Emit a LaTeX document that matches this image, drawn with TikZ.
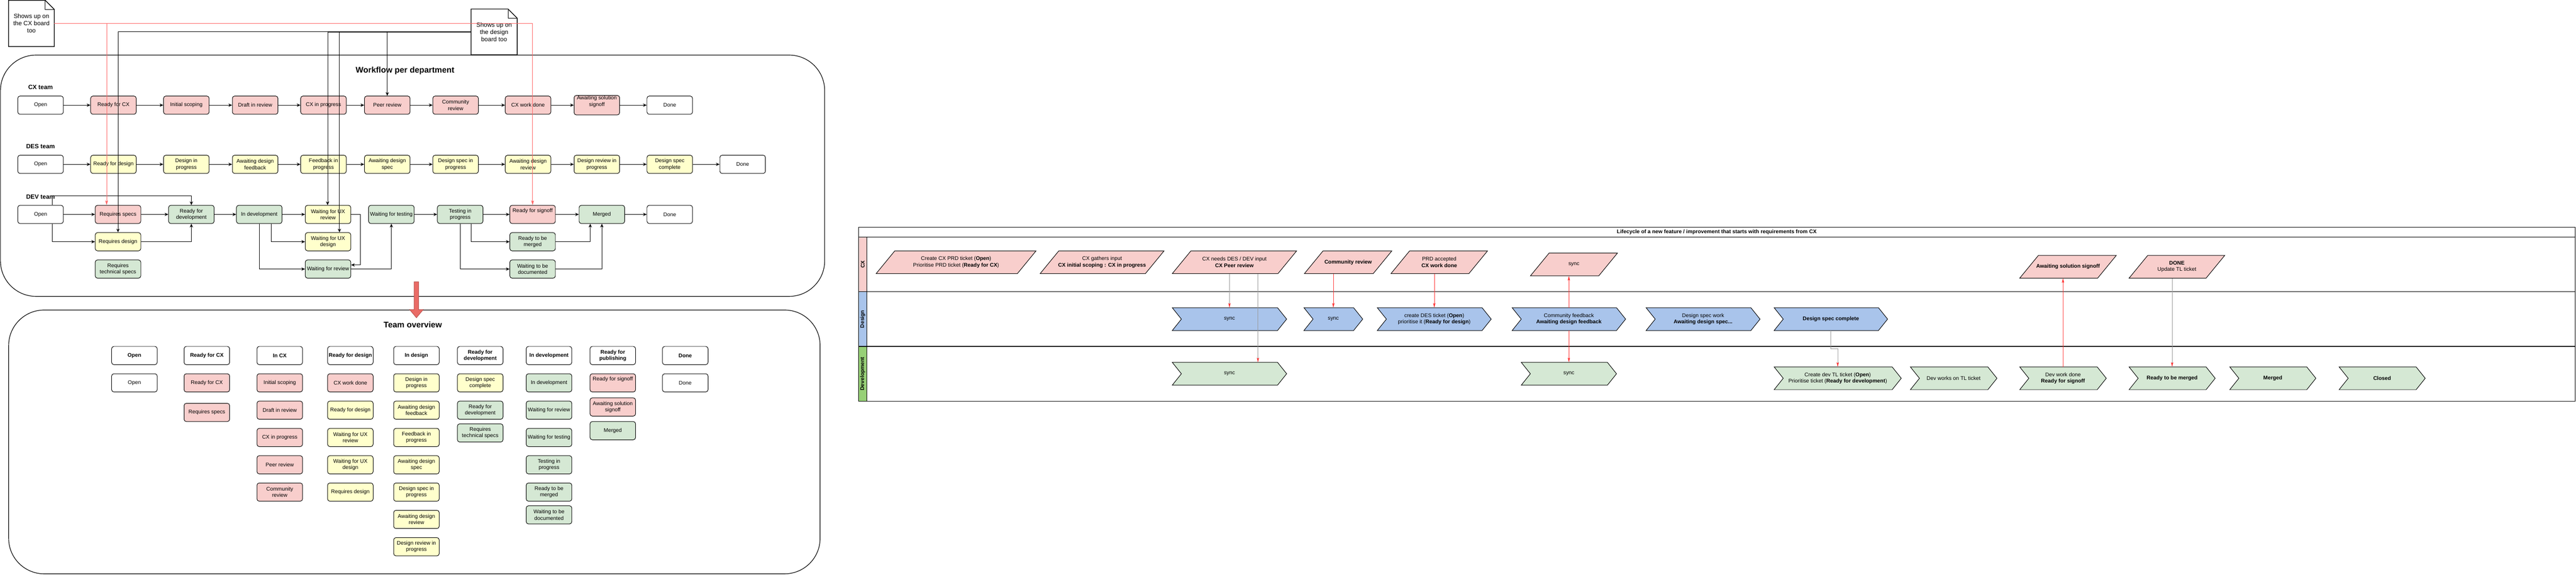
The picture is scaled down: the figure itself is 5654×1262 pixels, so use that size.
\documentclass[tikz,border=0pt]{standalone}
\usepackage{fontspec}
\setmainfont{Liberation Sans}
\usetikzlibrary{arrows.meta,calc}
\definecolor{cxred}{HTML}{F8CECC}
\definecolor{desyel}{HTML}{FFFFCC}
\definecolor{devgrn}{HTML}{D5E8D4}
\definecolor{laneblue}{HTML}{A9C4EB}
\definecolor{lanegreen}{HTML}{97D077}
\definecolor{linered}{HTML}{FF3333}
\definecolor{notered}{HTML}{FF6666}
\definecolor{blockred}{HTML}{EA6B66}
\definecolor{blockedge}{HTML}{B85450}
\newcommand\bxfont{\fontsize{11.7}{14}\selectfont}
\newcommand\bxbold{\fontsize{11.7}{14}\selectfont\bfseries}
\newcommand\notefont{\fontsize{13.5}{16}\selectfont}
\newcommand\bigtitle{\fontsize{18}{22}\selectfont\bfseries}
\newcommand\teamfont{\fontsize{13.5}{16}\selectfont\bfseries}
% chevron: name, x1, x2, y1, y2, fill, text
\newcommand\chevnode[7]{%
  \filldraw[fill=#6, draw=black, line width=1.1pt, line join=miter]
    (#2,#4) -- ({#3-20},#4) -- (#3,{(#4+#5)/2}) -- ({#3-20},#5) -- (#2,#5) -- ({#2+20},{(#4+#5)/2}) -- cycle;
  \node[shapetext, minimum width={#3-#2}, minimum height={#5-#4}] (#1) at ({(#2+#3)/2},{(#4+#5)/2}) {#7};}
% parallelogram: name, x1, x2 (bottom), top, bottom, offset, text
\newcommand\paranode[7]{%
  \filldraw[fill=cxred, draw=black, line width=1.1pt, line join=miter]
    (#2,#5) -- (#3,#5) -- ({#3+#6},#4) -- ({#2+#6},#4) -- cycle;
  \node[shapetext, minimum width={#3-#2+#6}, minimum height={#5-#4}] (#1) at ({(#2+#3+#6)/2},{(#4+#5)/2}) {#7};}
\begin{document}
\begin{tikzpicture}[x=1pt,y=-1pt]
\tikzset{
  bx/.style={draw=black, line width=1.1pt, rounded corners=5pt, minimum width=100pt, minimum height=40pt, align=center, inner sep=1pt, font=\bxfont},
  wh/.style={bx, fill=white},
  rd/.style={bx, fill=cxred},
  yl/.style={bx, fill=desyel},
  gr/.style={bx, fill=devgrn},
  hd/.style={bx, fill=white, font=\bxbold},
  arr/.style={line width=1.1pt, -{Stealth[length=8pt,width=7pt,inset=2.5pt]}},
  thinarr/.style={line width=0.6pt, -{Stealth[length=8pt,width=7pt,inset=2.5pt]}},
  redleft/.style={draw=notered, line width=0.8pt, -{Stealth[length=10pt,width=6pt,inset=2pt]}},
  redline/.style={draw=linered, line width=0.8pt, -{Stealth[length=10pt,width=5pt,inset=2pt]}},
  grayred/.style={draw=gray!80, line width=0.7pt, -{Stealth[length=10pt,width=5pt,inset=2pt,color=linered]}},
  shapetext/.style={font=\bxfont, align=center, inner sep=0pt},
  container/.style={draw=black, line width=1.3pt, rounded corners=78pt},
  notebox/.style={font=\notefont, align=center, inner sep=0pt},
  teamlbl/.style={font=\teamfont},
  lanelbl/.style={font=\bxbold, rotate=90},
}
\useasboundingbox (0,0) rectangle (5654,1262);
\fill[white] (0,0) rectangle (5654,1262);

%% ---------------- containers ----------------
\draw[container] (1,121) rectangle (1810,651);
\draw[container] (19,681) rectangle (1800,1260.5);
\node[font=\bigtitle] (wftitle) at (889,155) {Workflow per department};
\node[font=\bigtitle] (tvtitle) at (906,713) {Team overview};
\node[teamlbl] (cxteam) at (89,192) {CX team};
\node[teamlbl] (desteam) at (89,322) {DES team};
\node[teamlbl] (devteam) at (89,432) {DEV team};

%% ---------------- notes ----------------
\node[notebox, minimum width=100pt, minimum height=101pt] (cxnote) at (69,51.5) {Shows up on\\the CX board\\too};
\draw[line width=1.6pt, line join=miter] (cxnote.north west) -- ($(cxnote.north east)+(-20,0)$) -- ($(cxnote.north east)+(0,20)$) -- (cxnote.south east) -- (cxnote.south west) -- cycle;
\draw[line width=1.1pt] ($(cxnote.north east)+(-20,0)$) -- ($(cxnote.north east)+(-20,20)$) -- ($(cxnote.north east)+(0,20)$);
\node[notebox, minimum width=101pt, minimum height=100pt] (desnote) at (1084.5,70) {Shows up on\\the design\\board too};
\draw[line width=1.6pt, line join=miter] (desnote.north west) -- ($(desnote.north east)+(-20,0)$) -- ($(desnote.north east)+(0,20)$) -- (desnote.south east) -- (desnote.south west) -- cycle;
\draw[line width=1.1pt] ($(desnote.north east)+(-20,0)$) -- ($(desnote.north east)+(-20,20)$) -- ($(desnote.north east)+(0,20)$);

%% ---------------- CX row ----------------
\node[wh] (cxOpen) at (89,231) {Open};
\node[rd] (cxReady) at (249,231) {Ready for CX};
\node[rd] (cxInit) at (409,231) {Initial scoping};
\node[rd] (cxDraft) at (560,231) {Draft in review};
\node[rd] (cxProg) at (710,231) {CX in progress};
\node[rd] (cxPeer) at (850,231) {Peer review};
\node[rd] (cxComm) at (1000,231) {Community\\review};
\node[rd] (cxDone) at (1159,231) {CX work done};
\node[rd] (cxAwait) at (1310,231) {Awaiting solution\\signoff\\\strut};
\node[wh] (cxFin) at (1470,231) {Done};
\foreach \a/\b in {cxOpen/cxReady,cxReady/cxInit,cxInit/cxDraft,cxDraft/cxProg,cxProg/cxPeer,cxPeer/cxComm,cxComm/cxDone,cxDone/cxAwait,cxAwait/cxFin}
  \draw[arr] (\a) -- (\b);

%% ---------------- DES row ----------------
\node[wh] (desOpen) at (89,361) {Open};
\node[yl] (desReady) at (249,361) {Ready for design};
\node[yl] (desInProg) at (409,361) {Design in\\progress};
\node[yl] (desAwFb) at (560,361) {Awaiting design\\feedback};
\node[yl] (desFbProg) at (710,361) {Feedback in\\progress};
\node[yl] (desAwSpec) at (850,361) {Awaiting design\\spec};
\node[yl] (desSpecProg) at (1000,361) {Design spec in\\progress};
\node[yl] (desAwRev) at (1159,361) {Awaiting design\\review};
\node[yl] (desRevProg) at (1310,361) {Design review in\\progress};
\node[yl] (desComplete) at (1470,361) {Design spec\\complete};
\node[wh] (desDone) at (1630,361) {Done};
\foreach \a/\b in {desOpen/desReady,desReady/desInProg,desInProg/desAwFb,desAwFb/desFbProg,desFbProg/desAwSpec,desAwSpec/desSpecProg,desSpecProg/desAwRev,desAwRev/desRevProg,desRevProg/desComplete,desComplete/desDone}
  \draw[arr] (\a) -- (\b);

%% ---------------- DEV rows ----------------
\node[wh] (devOpen) at (89,471) {Open};
\node[rd] (devReqSpecs) at (259,471) {Requires specs};
\node[gr] (devReady) at (420,471) {Ready for\\development};
\node[gr] (devInDev) at (569,471) {In development};
\node[yl] (devUXrev) at (720,471) {Waiting for UX\\review};
\node[gr] (devWaitTest) at (859,471) {Waiting for testing};
\node[gr] (devTesting) at (1010,471) {Testing in\\progress};
\node[rd] (devSignoff) at (1169,471) {Ready for signoff\\\strut};
\node[gr] (devMerged) at (1321,471) {Merged};
\node[wh] (devDone) at (1470,471) {Done};
\node[yl] (devReqDesign) at (259,531) {Requires design};
\node[yl] (devUXdesign) at (720,531) {Waiting for UX\\design};
\node[gr] (devReadyMerge) at (1169,531) {Ready to be\\merged};
\node[gr] (devReqTech) at (259,591) {Requires\\technical specs};
\node[gr] (devWaitRev) at (720,591) {Waiting for review};
\node[gr] (devWaitDoc) at (1169,591) {Waiting to be\\documented};

\draw[arr] (devOpen) -- (devReqSpecs);
\draw[arr] ($(devOpen.south)+(26,0)$) |- (devReqDesign.west);
\draw[arr] ($(devOpen.north)+(26,0)$) -- ++(0,-20) -| (devReady.north);
\draw[arr] (devReqSpecs) -- (devReady);
\draw[arr] (devReqDesign.east) -| (devReady.south);
\draw[arr] (devReady) -- (devInDev);
\draw[arr] (devInDev) -- (devUXrev);
\draw[arr] ($(devInDev.south)+(26,0)$) |- (devUXdesign.west);
\draw[arr] (devInDev.south) |- (devWaitRev.west);
\draw[arr] (devUXrev.east) -- ++(20,0) |- ($(devWaitRev.east)+(0,-9)$);
\draw[arr] (devWaitRev.east) -| (devWaitTest.south);
\draw[arr] (devWaitTest) -- (devTesting);
\draw[arr] (devTesting) -- (devSignoff);
\draw[arr] ($(devTesting.south)+(24,0)$) |- (devReadyMerge.west);
\draw[arr] (devTesting.south) |- (devWaitDoc.west);
\draw[arr] (devSignoff) -- (devMerged);
\draw[arr] (devReadyMerge.east) -| ($(devMerged.south)+(-25.5,0)$);
\draw[arr] (devWaitDoc.east) -| (devMerged.south);
\draw[arr] (devMerged) -- (devDone);

%% note connectors
\draw[arr] (desnote.west) -| (devReqDesign.north);
\draw[thinarr] (desnote.west) -| ($(devUXrev.north)+(-1,0)$);
\draw[arr] (desnote.west) -| ($(devUXdesign.north)+(25,0)$);
\draw[arr] (desnote.west) -| (cxPeer.north);
\draw[redleft] (cxnote.east) -| (devSignoff.north);
\draw[redleft] (cxnote.east) -| ($(devReqSpecs.north)+(-25,0)$);

%% block arrow between containers
\filldraw[fill=blockred, draw=blockedge, line width=1.1pt, line join=miter]
  (909,619) -- (919,619) -- (919,680) -- (929,680) -- (914,698) -- (899,680) -- (909,680) -- cycle;

%% ---------------- Team overview ----------------
\node[hd] (tvH1) at (295,781) {Open};
\node[hd] (tvH2) at (454,781) {Ready for CX};
\node[hd] (tvH3) at (614,781) {In CX};
\node[hd] (tvH4) at (769,781) {Ready for design};
\node[hd] (tvH5) at (914,781) {In design};
\node[hd] (tvH6) at (1054,781) {Ready for\\development};
\node[hd] (tvH7) at (1205,781) {In development};
\node[hd] (tvH8) at (1345,781) {Ready for\\publishing};
\node[hd] (tvH9) at (1504,781) {Done};

\node[wh] (tvOpen) at (295,841) {Open};
\node[rd] (tvReadyCX) at (454,841) {Ready for CX};
\node[rd] (tvReqSpecs) at (454,906) {Requires specs};
\node[rd] (tvInit) at (614,841) {Initial scoping};
\node[rd] (tvDraft) at (614,901) {Draft in review};
\node[rd] (tvCXprog) at (614,961) {CX in progress};
\node[rd] (tvPeer) at (614,1021) {Peer review};
\node[rd] (tvComm) at (614,1081) {Community\\review};
\node[rd] (tvCXdone) at (769,841) {CX work done};
\node[yl] (tvReadyDes) at (769,901) {Ready for design};
\node[yl] (tvUXrev) at (769,961) {Waiting for UX\\review};
\node[yl] (tvUXdes) at (769,1021) {Waiting for UX\\design};
\node[yl] (tvReqDes) at (769,1081) {Requires design};
\node[yl] (tvDesProg) at (914,841) {Design in\\progress};
\node[yl] (tvAwFb) at (914,901) {Awaiting design\\feedback};
\node[yl] (tvFbProg) at (914,961) {Feedback in\\progress};
\node[yl] (tvAwSpec) at (914,1021) {Awaiting design\\spec};
\node[yl] (tvSpecProg) at (914,1081) {Design spec in\\progress};
\node[yl] (tvAwRev) at (914,1141) {Awaiting design\\review};
\node[yl] (tvRevProg) at (914,1201) {Design review in\\progress};
\node[yl] (tvSpecDone) at (1054,841) {Design spec\\complete};
\node[gr] (tvReadyDev) at (1054,901) {Ready for\\development};
\node[gr] (tvReqTech) at (1054,951) {Requires\\technical specs};
\node[gr] (tvInDev) at (1205,841) {In development};
\node[gr] (tvWaitRev) at (1205,901) {Waiting for review};
\node[gr] (tvWaitTest) at (1205,961) {Waiting for testing};
\node[gr] (tvTesting) at (1205,1021) {Testing in\\progress};
\node[gr] (tvReadyMerge) at (1205,1081) {Ready to be\\merged};
\node[gr] (tvWaitDoc) at (1205,1131) {Waiting to be\\documented};
\node[rd] (tvSignoff) at (1345,841) {Ready for signoff\\\strut};
\node[rd] (tvAwSol) at (1345,894) {Awaiting solution\\signoff};
\node[gr] (tvMerged) at (1345,946) {Merged};
\node[wh] (tvDone) at (1504,841) {Done};

%% ---------------- Right: swimlane pool ----------------
\fill[cxred] (1884,521) rectangle (1903,641);
\fill[laneblue] (1884,641) rectangle (1903,761);
\fill[lanegreen] (1884,761) rectangle (1903,881);
\draw[line width=1.3pt] (1884,499) rectangle (5652,881);
\draw[line width=1.3pt] (1884,521) -- (5652,521);
\draw[line width=1.3pt] (1884,641) -- (5652,641);
\draw[line width=1.3pt] (1884,761) -- (5652,761);
\draw[line width=1.3pt] (1903,521) -- (1903,881);
\node[font=\bxbold] (pooltitle) at (3768,510) {Lifecycle of a new feature / improvement that starts with requirements from CX};
\node[lanelbl] (laneCX) at (1893.5,581) {CX};
\node[lanelbl] (laneDES) at (1893.5,701) {Design};
\node[lanelbl] (laneDEV) at (1893.5,821) {Development};

% CX lane
\paranode{cx1}{1923}{2233}{551}{601}{41}{Create CX PRD ticket (\textbf{Open})\\Prioritise PRD ticket (\textbf{Ready for CX})}
\paranode{cx2}{2283}{2514}{551}{601}{41}{CX gathers input\\\textbf{CX initial scoping : CX in progress}}
\paranode{cx3}{2573}{2805}{551}{601}{41}{CX needs DES / DEV input\\\textbf{CX Peer review}}
\paranode{cx4}{2863}{3014}{551}{601}{41}{\textbf{Community review}}
\paranode{cx5}{3053}{3224}{551}{601}{41}{PRD accepted\\\textbf{CX work done}}
\paranode{cx6}{3359}{3509}{556}{606}{41}{sync}
\paranode{cx7}{4433}{4604}{561}{611}{41}{\textbf{Awaiting solution signoff}}
\paranode{cx8}{4673}{4842}{561}{611}{41}{\textbf{DONE}\\Update TL ticket}

% Design lane
\chevnode{dsync1}{2573}{2824}{676}{726}{laneblue}{sync}
\chevnode{dsync2}{2862}{2991}{676}{726}{laneblue}{sync}
\chevnode{dcreate}{3023}{3273}{676}{726}{laneblue}{create DES ticket (\textbf{Open})\\prioritise it (\textbf{Ready for design})}
\chevnode{dcomm}{3319}{3568}{676}{726}{laneblue}{Community feedback\\\textbf{Awaiting design feedback}}
\chevnode{dspec}{3613}{3863}{676}{726}{laneblue}{Design spec work\\\textbf{Awaiting design spec...}}
\chevnode{dcomplete}{3894}{4143}{676}{726}{laneblue}{\textbf{Design spec complete}}

% Development lane
\chevnode{dvsync1}{2573}{2824}{796}{846}{devgrn}{sync}
\chevnode{dvsync2}{3339}{3548}{796}{846}{devgrn}{sync}
\chevnode{dvcreate}{3894}{4173}{806}{856}{devgrn}{Create dev TL ticket (\textbf{Open})\\Prioritise ticket (\textbf{Ready for development})}
\chevnode{dvworks}{4193}{4383}{806}{856}{devgrn}{Dev works on TL ticket}
\chevnode{dvdone}{4433}{4623}{806}{856}{devgrn}{Dev work done\\\textbf{Ready for signoff}}
\chevnode{dvready}{4673}{4862}{806}{856}{devgrn}{\textbf{Ready to be merged}}
\chevnode{dvmerged}{4894}{5083}{806}{856}{devgrn}{\textbf{Merged}}
\chevnode{dvclosed}{5134}{5323}{806}{856}{devgrn}{\textbf{Closed}}

% connectors
\coordinate (xb) at (2761,0);
\draw[grayred] (cx3.south -| dsync1.north) -- (dsync1.north);
\draw[grayred] (cx3.south -| xb) -- (xb |- dvsync1.north);
\draw[redline] (cx4.south -| dsync2.north) -- (dsync2.north);
\draw[redline] (cx5.south -| dcreate.north) -- (dcreate.north);
\draw[redline] (dcomm.north) -- (dcomm.north |- cx6.south);
\draw[redline] (dcomm.south) -- (dvsync2.north);
\draw[grayred] (dcomplete.south) -- ++(0,40) -| (dvcreate.north);
\draw[redline] (dvdone.north) -- (dvdone.north |- cx7.south);
\draw[grayred] (cx8.south -| dvready.north) -- (dvready.north);
\end{tikzpicture}
\end{document}
